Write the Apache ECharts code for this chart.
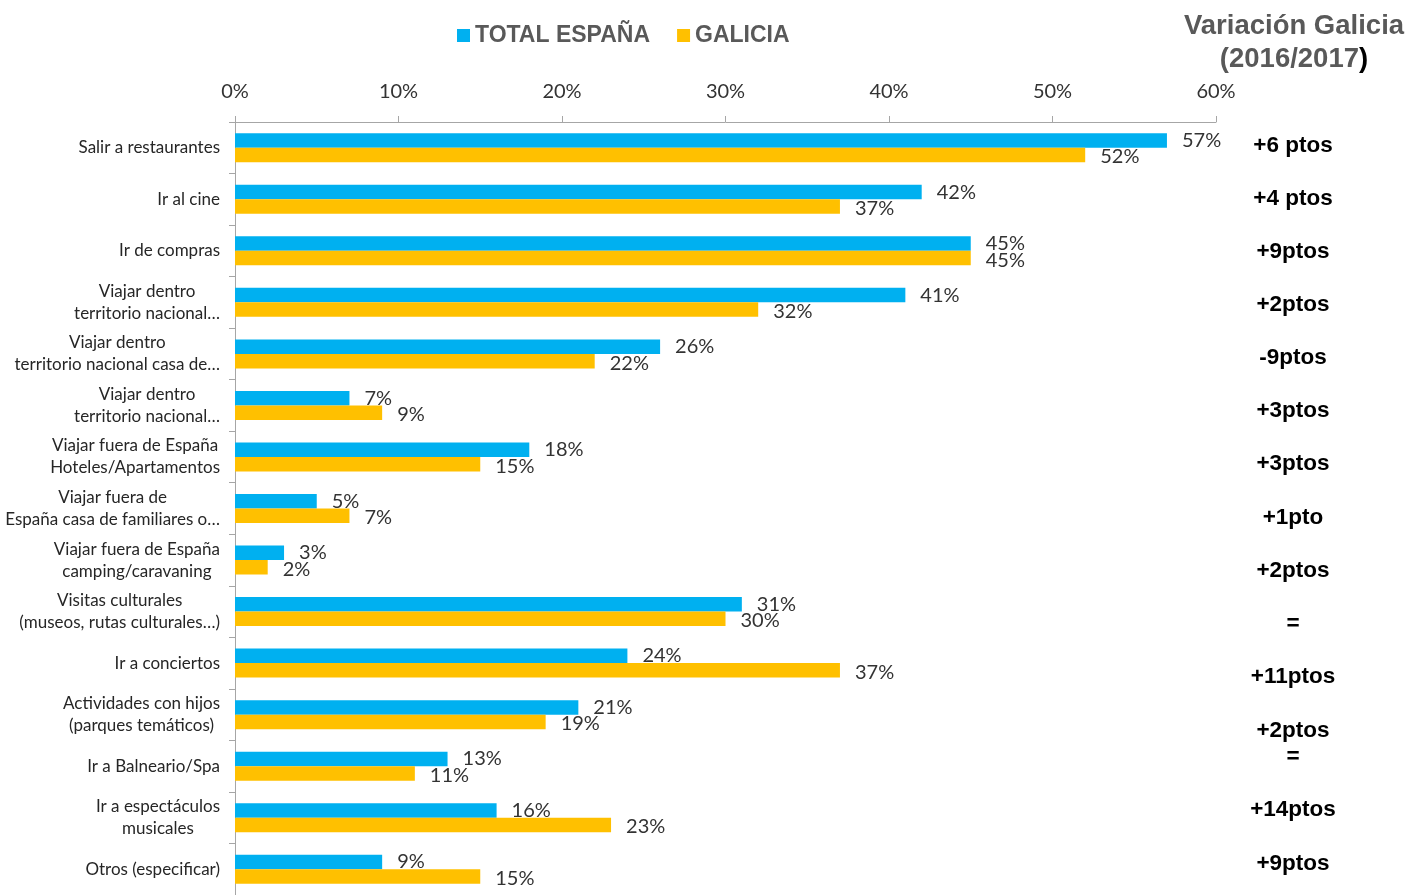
<!DOCTYPE html>
<html>
<head>
<meta charset="utf-8">
<script src="https://cdn.jsdelivr.net/npm/echarts@6/dist/echarts.min.js"></script>
<style>
  html, body { margin: 0; padding: 0; background: #fff; }
  #chart { width: 1410px; height: 895px; }
</style>
</head>
<body>
<div id="chart"></div>
<script>
// categorias, de arriba a abajo
var categorias = [
  "Salir a restaurantes",
  "Ir al cine",
  "Ir de compras",
  "Viajar dentro\nterritorio nacional…",
  "Viajar dentro\nterritorio nacional casa de…",
  "Viajar dentro\nterritorio nacional…",
  "Viajar fuera de España\nHoteles/Apartamentos",
  "Viajar fuera de\nEspaña casa de familiares o…",
  "Viajar fuera de España\ncamping/caravaning",
  "Visitas culturales\n(museos, rutas culturales…)",
  "Ir a conciertos",
  "Actividades con hijos\n(parques temáticos)",
  "Ir a Balneario/Spa",
  "Ir a espectáculos\nmusicales",
  "Otros (especificar)"
];
var totalEspana = [57, 42, 45, 41, 26, 7, 18, 5, 3, 31, 24, 21, 13, 16, 9];
var galicia = [52, 37, 45, 32, 22, 9, 15, 7, 2, 30, 37, 19, 11, 23, 15];
var variacion = [
  "+6 ptos", "+4 ptos", "+9ptos", "+2ptos", "-9ptos", "+3ptos", "+3ptos",
  "+1pto", "+2ptos", "=", "+11ptos", "+2ptos", "=", "+14ptos", "+9ptos"
];
var ticksX = [0, 10, 20, 30, 40, 50, 60];

// posiciones verticales de la columna de variacion (no van alineadas a las barras)
var variacionY = [146, 199, 252, 305, 358, 411, 464, 518, 571, 624, 677, 731, 757, 810, 864];

var AZUL = "#00B0F0";
var AMARILLO = "#FFC000";
var fuenteTexto = "Lato, 'Open Sans', sans-serif";
var fuenteBold = "'Liberation Sans', Arial, sans-serif";

var graficos = variacion.map(function (t, i) {
  return {
    type: "text",
    x: 1293,
    y: variacionY[i],
    style: {
      text: t,
      align: "center",
      verticalAlign: "middle",
      font: "bold 22.5px " + fuenteBold,
      fill: "#000"
    }
  };
});
graficos.push({
  type: "text",
  x: 1294,
  y: 10,
  style: {
    text: "{g|Variación Galicia}\n{g|(2016/2017}{k|)}",
    align: "center",
    rich: {
      g: { font: "bold 27.5px " + fuenteBold, fill: "#595959", lineHeight: 33 },
      k: { font: "bold 27.5px " + fuenteBold, fill: "#000", lineHeight: 33 }
    }
  }
});

var etiqueta = {
  show: true,
  position: "right",
  distance: 15,
  formatter: "{c}%",
  color: "#333",
  fontFamily: fuenteTexto,
  fontSize: 20
};

var option = {
  animation: false,
  backgroundColor: "#fff",
  legend: {
    left: 452,
    top: 19,
    icon: "rect",
    itemWidth: 13,
    itemHeight: 13,
    itemGap: 27,
    textStyle: {
      fontFamily: fuenteBold,
      fontWeight: "bold",
      fontSize: 23,
      color: "#595959"
    },
    data: ["TOTAL ESPAÑA", "GALICIA"]
  },
  grid: {
    left: 235,
    right: 194,
    top: 122,
    bottom: -7
  },
  xAxis: {
    type: "value",
    position: "top",
    min: ticksX[0],
    max: ticksX[ticksX.length - 1],
    interval: 10,
    axisLine: { show: true, lineStyle: { color: "#a6a6a6", width: 1 } },
    axisTick: { show: true, length: 6, lineStyle: { color: "#a6a6a6" } },
    splitLine: { show: false },
    axisLabel: {
      margin: 20,
      formatter: "{value}%",
      color: "#333",
      fontFamily: fuenteTexto,
      fontSize: 20
    }
  },
  yAxis: {
    type: "category",
    inverse: true,
    data: categorias,
    axisLine: { show: true, lineStyle: { color: "#a6a6a6", width: 1 } },
    axisTick: { show: true, length: 6, lineStyle: { color: "#a6a6a6" } },
    axisLabel: {
      margin: 15,
      color: "#262626",
      // cada linea centrada dentro del bloque
      formatter: function (v) {
        return v.split("\n").map(function (s) {
          return "{c|" + s + "}";
        }).join("\n");
      },
      rich: {
        c: {
          align: "center",
          fontFamily: fuenteTexto,
          fontSize: 17,
          lineHeight: 22,
          color: "#262626"
        }
      }
    }
  },
  series: [
    {
      name: "TOTAL ESPAÑA",
      type: "bar",
      data: totalEspana,
      barWidth: 14.5,
      barGap: "0%",
      itemStyle: { color: AZUL },
      label: etiqueta
    },
    {
      name: "GALICIA",
      type: "bar",
      data: galicia,
      barWidth: 14.5,
      barGap: "0%",
      itemStyle: { color: AMARILLO },
      label: Object.assign({}, etiqueta, { offset: [0, 2] })
    }
  ],
  graphic: graficos
};

var chart = echarts.init(document.getElementById("chart"));
chart.setOption(option);
</script>
</body>
</html>
